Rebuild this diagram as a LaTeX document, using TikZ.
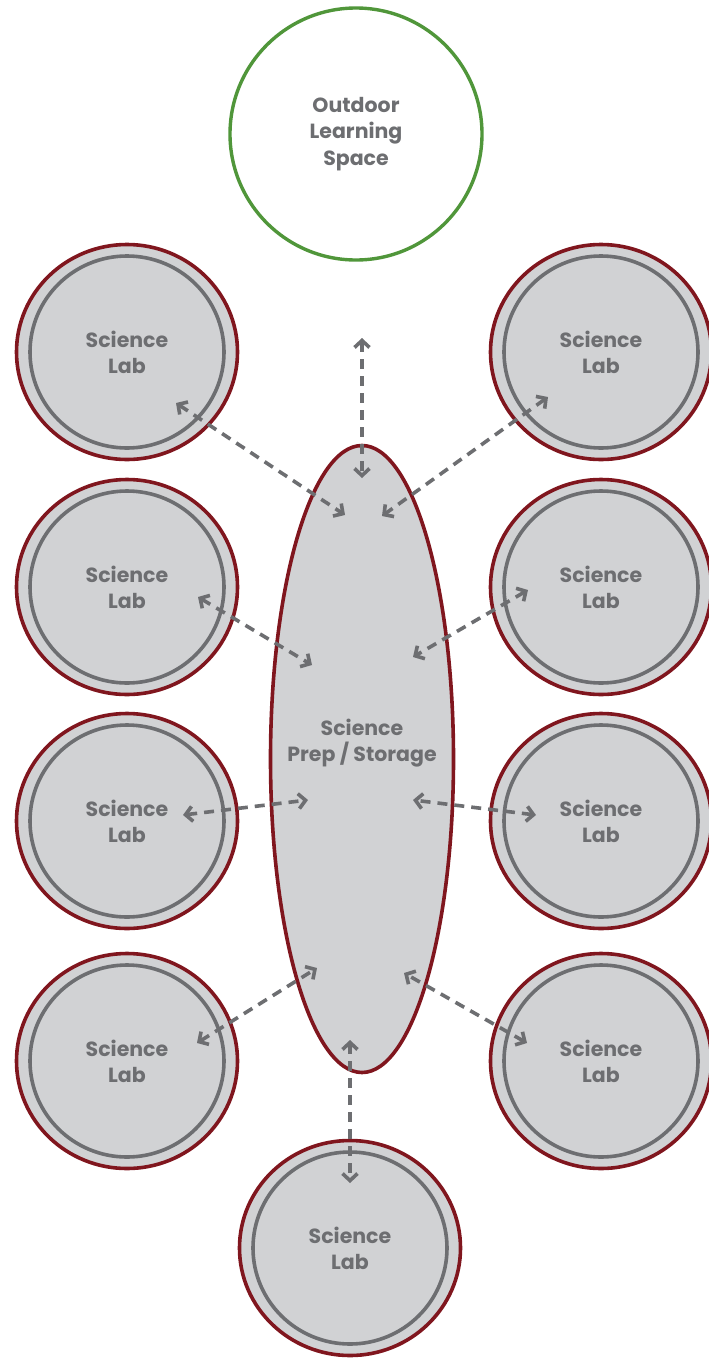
\documentclass[tikz,border=0pt]{standalone}
\usepackage{fontspec}
\setmainfont{Poppins}
\usetikzlibrary{arrows.meta,shapes.geometric}

\definecolor{labred}{RGB}{128,22,30}
\definecolor{labfill}{RGB}{209,210,212}
\definecolor{ringgray}{RGB}{109,110,113}
\definecolor{yardgreen}{RGB}{80,150,58}

\tikzset{
  lab/.style={ellipse,draw=labred,fill=labfill,line width=3.6pt,inner sep=0pt,
    minimum width=221pt,minimum height=215pt,align=center,text=ringgray,
    font=\bfseries\fontsize{20.5}{26}\selectfont},
  ring/.style={draw=ringgray,line width=3.6pt},
  link/.style={ringgray,line width=3.6pt,dash pattern=on 10pt off 7pt,<->},
}

\begin{document}
\begin{tikzpicture}[x=1pt,y=-1pt,>={Straight Barb[length=7pt,width=15pt]}]
\useasboundingbox (0,0) rectangle (709,1358);

% outdoor space
\node[circle,draw=yardgreen,line width=3.4pt,minimum size=252pt,align=center,
  text=ringgray,font=\bfseries\fontsize{20.5}{26.5}\selectfont]
  (yard) at (356,134) {Outdoor\\Learning\\Space};

% labs round the prep room
\node[lab] (labL1) at (127,352) {Science\\Lab};
\node[lab] (labL2) at (127,587) {Science\\Lab};
\node[lab] (labL3) at (127,821) {Science\\Lab};
\node[lab] (labL4) at (127,1061) {Science\\Lab};
\node[lab] (labR1) at (601,352) {Science\\Lab};
\node[lab] (labR2) at (601,587) {Science\\Lab};
\node[lab] (labR3) at (601,821) {Science\\Lab};
\node[lab] (labR4) at (601,1061) {Science\\Lab};
\node[lab] (labB) at (350,1248) {Science\\Lab};
\draw[ring] (labL1.center) ellipse (97 and 96);
\draw[ring] (labL2.center) ellipse (97 and 96);
\draw[ring] (labL3.center) ellipse (97 and 96);
\draw[ring] (labL4.center) ellipse (97 and 96);
\draw[ring] (labR1.center) ellipse (97 and 96);
\draw[ring] (labR2.center) ellipse (97 and 96);
\draw[ring] (labR3.center) ellipse (97 and 96);
\draw[ring] (labR4.center) ellipse (97 and 96);
\draw[ring] (labB.center) ellipse (97 and 96);

% prep / storage
\node[ellipse,draw=labred,fill=labfill,line width=3.6pt,minimum width=183pt,
  minimum height=627pt] (prep) at (362,759) {};
\node[align=center,text=ringgray,font=\bfseries\fontsize{20.5}{26}\selectfont]
  (preptext) at (362,743) {Science\\Prep / Storage};

% arrow ends
\coordinate (yardIn) at (362,338);
\coordinate (prepTop) at (362,478);
\coordinate (l1) at (176,403);  \coordinate (p1) at (345,515);
\coordinate (r1) at (548,397);  \coordinate (q1) at (382,516);
\coordinate (l2) at (198,597);  \coordinate (p2) at (312,665);
\coordinate (r2) at (528,590);  \coordinate (q2) at (413,657);
\coordinate (l3) at (183,815);  \coordinate (p3) at (308,800);
\coordinate (r3) at (536,815);  \coordinate (q3) at (413,800);
\coordinate (l4) at (197,1043); \coordinate (p4) at (317,968);
\coordinate (r4) at (527,1043); \coordinate (q4) at (404,973);
\coordinate (bIn) at (350,1183); \coordinate (prepBot) at (350,1040);

\draw[link] (yardIn) -- (prepTop);
\draw[link] (l1) -- (p1);
\draw[link] (r1) -- (q1);
\draw[link] (l2) -- (p2);
\draw[link] (r2) -- (q2);
\draw[link] (l3) -- (p3);
\draw[link] (r3) -- (q3);
\draw[link] (l4) -- (p4);
\draw[link] (r4) -- (q4);
\draw[link] (prepBot) -- (bIn);
\end{tikzpicture}
\end{document}
